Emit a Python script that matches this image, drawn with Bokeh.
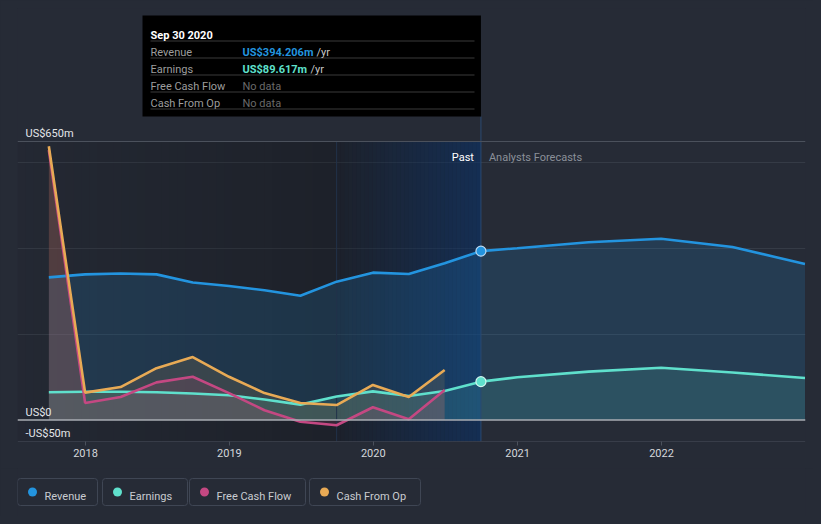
import numpy as np
import pandas as pd
from bokeh.plotting import figure
from bokeh.layouts import column
from bokeh.models import Range1d, FixedTicker, DatetimeTickFormatter, Span
from bokeh.core.properties import value
from bokeh.embed import file_html
from bokeh.resources import INLINE

# ---------------- data (US$ millions) ----------------
past_dates = ["2017-09-30", "2017-12-31", "2018-03-31", "2018-06-30", "2018-09-30",
              "2018-12-31", "2019-03-31", "2019-06-30", "2019-09-30", "2019-12-31",
              "2020-03-31", "2020-06-30", "2020-09-30"]
revenue_past = [333, 340, 342, 340, 321, 313, 303, 290, 323, 344, 341, 366, 394.206]
earnings_past = [65, 66, 66, 65, 62, 58, 48, 36, 55, 67, 56, 68, 89.617]

cash_dates = past_dates[:-1]
free_cash_flow = [630, 40, 54, 88, 101, 63, 23, -4, -12, 30, 2, 70]
cash_from_op = [639, 64, 77, 121, 147, 101, 63, 40, 35, 82, 54, 117]

forecast_dates = ["2020-12-31", "2021-06-30", "2021-12-31", "2022-06-30", "2022-12-31"]
revenue_forecast = [401, 415, 423, 404, 364]
earnings_forecast = [100, 113, 122, 111, 98]

year_ticks = ["2018-01-01", "2019-01-01", "2020-01-01", "2021-01-01", "2022-01-01"]
y_tick_values = [650, 0, -50]
y_tick_labels = ["US$650m", "US$0", "-US$50m"]
grid_values = [200, 400, 600]

series_names = ["Revenue", "Earnings", "Free Cash Flow", "Cash From Op"]
series_colors = ["#2394df", "#5fe0cc", "#c44882", "#e8aa55"]

tooltip_title = "Sep 30 2020"
tooltip_labels = ["Revenue", "Earnings", "Free Cash Flow", "Cash From Op"]
tooltip_values = ["US$394.206m", "US$89.617m", "No data", "No data"]

# ---------------- styles ----------------
BG = "#262b36"
FONT = value("Roboto")

def ms(d):
    return pd.Timestamp(d).value // 10**6

MS_PER_PX = 365.25 * 86400000 / 144.0
T2018 = ms("2018-01-01")

def xd(px):  # page px -> x data (ms)
    return T2018 + (px - 85) * MS_PER_PX

def yv(py):  # page px -> y data (US$m)
    return 650 + (141 - py) * 700.0 / 300.0

p = figure(width=813, height=468, x_axis_type="datetime",
           x_range=Range1d(xd(17), xd(805)), y_range=Range1d(-50, yv(8)),
           output_backend="svg", toolbar_location=None, y_axis_location=None,
           min_border_left=17, min_border_right=8, min_border_top=8, min_border_bottom=27)
p.background_fill_color = BG
p.border_fill_color = BG
p.outline_line_color = None
p.xgrid.visible = False
p.ygrid.ticker = FixedTicker(ticks=grid_values)
p.ygrid.grid_line_color = "#353b46"

ax = p.xaxis[0]
ax.ticker = FixedTicker(ticks=[ms(t) for t in year_ticks])
ax.formatter = DatetimeTickFormatter(years="%Y", months="%Y", days="%Y", hours="%Y",
                                     minutes="%Y", seconds="%Y", milliseconds="%Y")
ax.axis_line_color = None
ax.major_tick_line_color = "#4b515c"
ax.major_tick_in = 0
ax.major_tick_out = 4
ax.minor_tick_line_color = None
ax.major_label_standoff = 3
ax.major_label_text_color = "#d4d7dc"
ax.major_label_text_font = "Roboto"
ax.major_label_text_font_size = "11px"

t_last = ms(past_dates[-1])
t_split = ms("2019-09-30")

# past shading (decorative gradient strips)
n1 = 40
e1 = np.linspace(xd(17), t_split, n1 + 1)
p.quad(left=e1[:-1], right=e1[1:], bottom=-50, top=650, fill_color="black",
       fill_alpha=list(np.linspace(0.05, 0.22, n1)), line_color=None)
n2 = 36
e2 = np.linspace(t_split, t_last, n2 + 1)
p.quad(left=e2[:-1], right=e2[1:], bottom=-50, top=650, fill_color="black",
       fill_alpha=0.22, line_color=None)
p.quad(left=e2[:-1], right=e2[1:], bottom=-50, top=650, fill_color="#0a418c",
       fill_alpha=list(np.linspace(0.02, 0.42, n2)), line_color=None)

# series
rev_x = pd.to_datetime(past_dates + forecast_dates)
rev_y = revenue_past + revenue_forecast
earn_y = earnings_past + earnings_forecast
cash_x = pd.to_datetime(cash_dates)

p.varea(x=rev_x, y1=0, y2=rev_y, fill_color=series_colors[0], fill_alpha=0.17)
p.varea(x=rev_x, y1=0, y2=earn_y, fill_color=series_colors[1], fill_alpha=0.13)
p.varea(x=cash_x, y1=0, y2=free_cash_flow, fill_color=series_colors[2], fill_alpha=0.15)
p.varea(x=cash_x, y1=0, y2=cash_from_op, fill_color=series_colors[3], fill_alpha=0.13)

# reference lines
p.add_layout(Span(location=650, dimension="width", line_color="#4b515c", line_width=1))
p.add_layout(Span(location=-50, dimension="width", line_color="#4b515c", line_width=1))
p.add_layout(Span(location=0, dimension="width", line_color="#a9adb3", line_width=1.5))

p.segment(x0=[t_split], y0=[-50], x1=[t_split], y1=[650], line_color="#22324a", line_width=1)

p.line(x=rev_x, y=rev_y, line_color=series_colors[0], line_width=2.6)
p.line(x=rev_x, y=earn_y, line_color=series_colors[1], line_width=2.6)
p.line(x=cash_x, y=free_cash_flow, line_color=series_colors[2], line_width=2.6)
p.line(x=cash_x, y=cash_from_op, line_color=series_colors[3], line_width=2.6)

# tooltip
p.segment(x0=[t_last], y0=[-50], x1=[t_last], y1=[yv(116)], line_color="#2b4a72", line_width=1)
p.quad(left=[xd(142)], right=[t_last], bottom=[yv(116)], top=[yv(15)],
       fill_color="black", line_color=None)
sep_y = [yv(40.5 + 17 * i) for i in range(5)]
p.segment(x0=[xd(150)] * 5, y0=sep_y, x1=[xd(474)] * 5, y1=sep_y,
          line_color="#3a3a3a", line_width=1)
p.text(x=[xd(150)], y=[yv(35)], text=[tooltip_title], text_font=FONT,
       text_font_style="bold", text_font_size="11px", text_color="#ffffff",
       text_baseline="alphabetic")
row_y = [yv(52 + 17 * i) for i in range(4)]
p.text(x=[xd(150)] * 4, y=row_y, text=tooltip_labels, text_font=FONT,
       text_font_size="11px", text_color="#9d9d9d", text_baseline="alphabetic")
p.text(x=[xd(242)] * 2, y=row_y[:2], text=tooltip_values[:2], text_font=FONT,
       text_font_style="bold", text_font_size="11px",
       text_color=[series_colors[0], series_colors[1]], text_baseline="alphabetic")
p.text(x=[xd(242)] * 2, y=row_y[2:], text=tooltip_values[2:], text_font=FONT,
       text_font_size="11px", text_color="#6a6a6a", text_baseline="alphabetic")
p.text(x=[xd(316), xd(310)], y=row_y[:2], text=["/yr", "/yr"], text_font=FONT,
       text_font_size="11px", text_color="#c8c8c8", text_baseline="alphabetic")

# markers at last reported point
p.scatter(x=[t_last], y=[revenue_past[-1]], size=10, fill_color=series_colors[0],
          line_color="#bcd9f2", line_width=1.2)
p.scatter(x=[t_last], y=[earnings_past[-1]], size=10, fill_color=series_colors[1],
          line_color="#d2f6ef", line_width=1.2)

# past / forecast labels
p.text(x=[t_last], y=[650], text=["Past"], x_offset=-7, y_offset=16, text_align="right",
       text_baseline="alphabetic", text_font=FONT, text_font_size="11px", text_color="#ffffff")
p.text(x=[t_last], y=[650], text=["Analysts Forecasts"], x_offset=8, y_offset=16,
       text_align="left", text_baseline="alphabetic", text_font=FONT,
       text_font_size="11px", text_color="#8b9099")

# y tick labels
p.text(x=[xd(17)] * 3, y=y_tick_values, text=y_tick_labels, x_offset=8, y_offset=-8,
       text_baseline="alphabetic", text_font=FONT, text_font_size="11px",
       text_color="#e4e6e9")

# ---------------- legend strip ----------------
lg = figure(width=813, height=48, x_range=Range1d(17, 805), y_range=Range1d(519, 471),
            output_backend="svg", toolbar_location=None,
            x_axis_location=None, y_axis_location=None,
            min_border_left=17, min_border_right=8, min_border_top=0, min_border_bottom=0)
lg.background_fill_color = BG
lg.border_fill_color = BG
lg.outline_line_color = None
lg.grid.visible = False
box_left = [17, 102, 189, 309]
box_right = [97, 187, 305, 420]
lg.quad(left=box_left, right=box_right, top=[481] * 4, bottom=[508] * 4,
        fill_color=None, line_color="#3f4654", line_width=1, border_radius=3)
lg.scatter(x=[l + 15 for l in box_left], y=[494.5] * 4, size=9,
           fill_color=series_colors, line_color=None)
lg.text(x=[l + 27 for l in box_left], y=[498.5] * 4, text=series_names,
        text_font=FONT, text_font_size="11px", text_color="#c9ccd1",
        text_baseline="alphabetic")

layout = column(p, lg, spacing=0)
layout.styles = {"background-color": BG}
html = file_html(layout, INLINE)
html = html.replace("</head>", "<style>html, body { background: #262b36; }</style></head>", 1)
open("out.html", "w").write(html)
